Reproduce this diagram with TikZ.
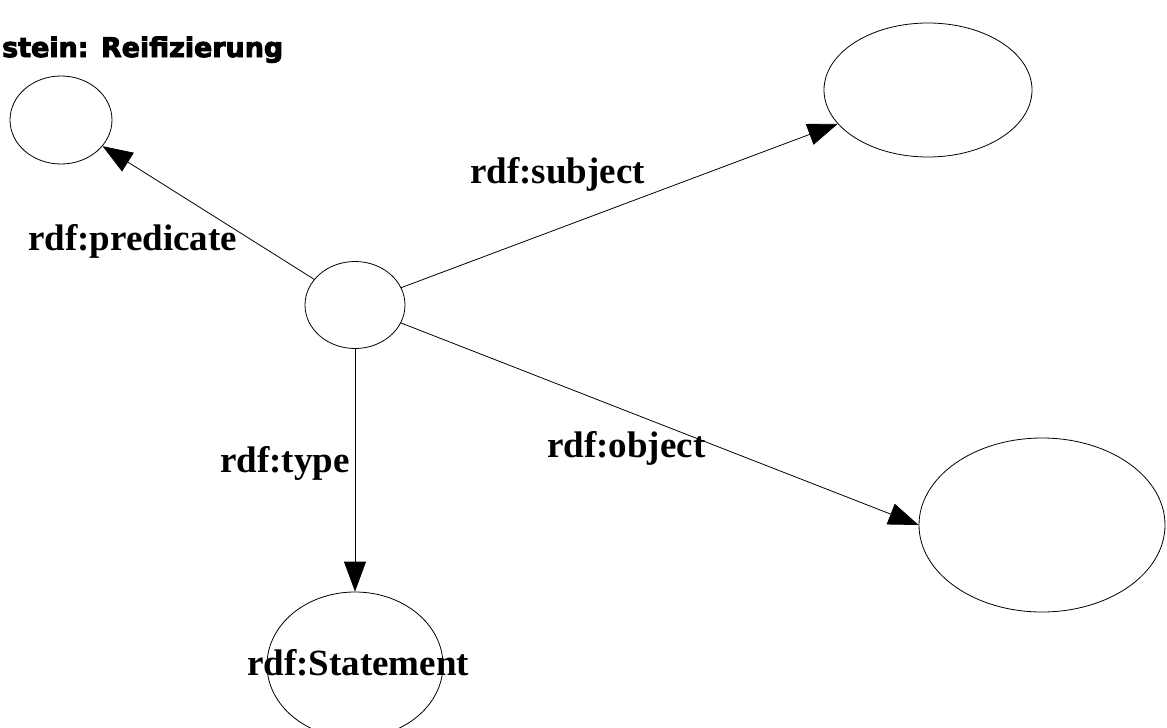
\documentclass[tikz,border=0pt]{standalone}
\usepackage{fontspec}
\setmainfont{Liberation Serif}
\newfontfamily\titlefont{DejaVu Sans}[BoldFeatures={FakeBold=3.5}]
\usetikzlibrary{shapes.geometric,arrows.meta}

\begin{document}
\begin{tikzpicture}[x=1pt,y=-1pt,
    res/.style={draw,ellipse,line width=0.8pt,inner sep=0pt},
    lbl/.style={anchor=base west,inner sep=0pt,font=\bfseries\fontsize{37}{40}\selectfont},
    prop/.style={line width=0.8pt,-{Triangle[length=30pt,width=22pt]}}]
  \useasboundingbox (0,0) rectangle (1167,728);
  \clip (0,0) rectangle (1167,728);
  \draw
    (355,305) node[res,minimum width=100pt,minimum height=87pt] (stmt){}
    (61,120) node[res,minimum width=102pt,minimum height=88pt] (pred){}
    (928,90) node[res,minimum width=208pt,minimum height=134pt] (subj){}
    (1042,525) node[res,minimum width=246pt,minimum height=174pt] (obj){}
    (355,665) node[res,minimum width=176pt,minimum height=146pt] (cls){};
  \begin{scope}[prop]
    \draw (stmt) to (pred);
    \draw (stmt) to (subj);
    \draw (stmt) to (obj.west);
    \draw (stmt) to (cls);
  \end{scope}
  \node[lbl] (lpred) at (28,250) {rdf:predicate};
  \node[lbl] (lsubj) at (470,183) {rdf:subject};
  \node[lbl] (ltype) at (220,472) {rdf:type};
  \node[lbl] (lobj) at (547,457) {rdf:object};
  \node[lbl] (lcls) at (247,675) {rdf:Statement};
  \node[anchor=base west,inner sep=0pt] (title) at (2,57)
    {\resizebox{281pt}{\height}{\titlefont\bfseries\fontsize{27}{30}\selectfont stein: Reifizierung}};
\end{tikzpicture}
\end{document}
